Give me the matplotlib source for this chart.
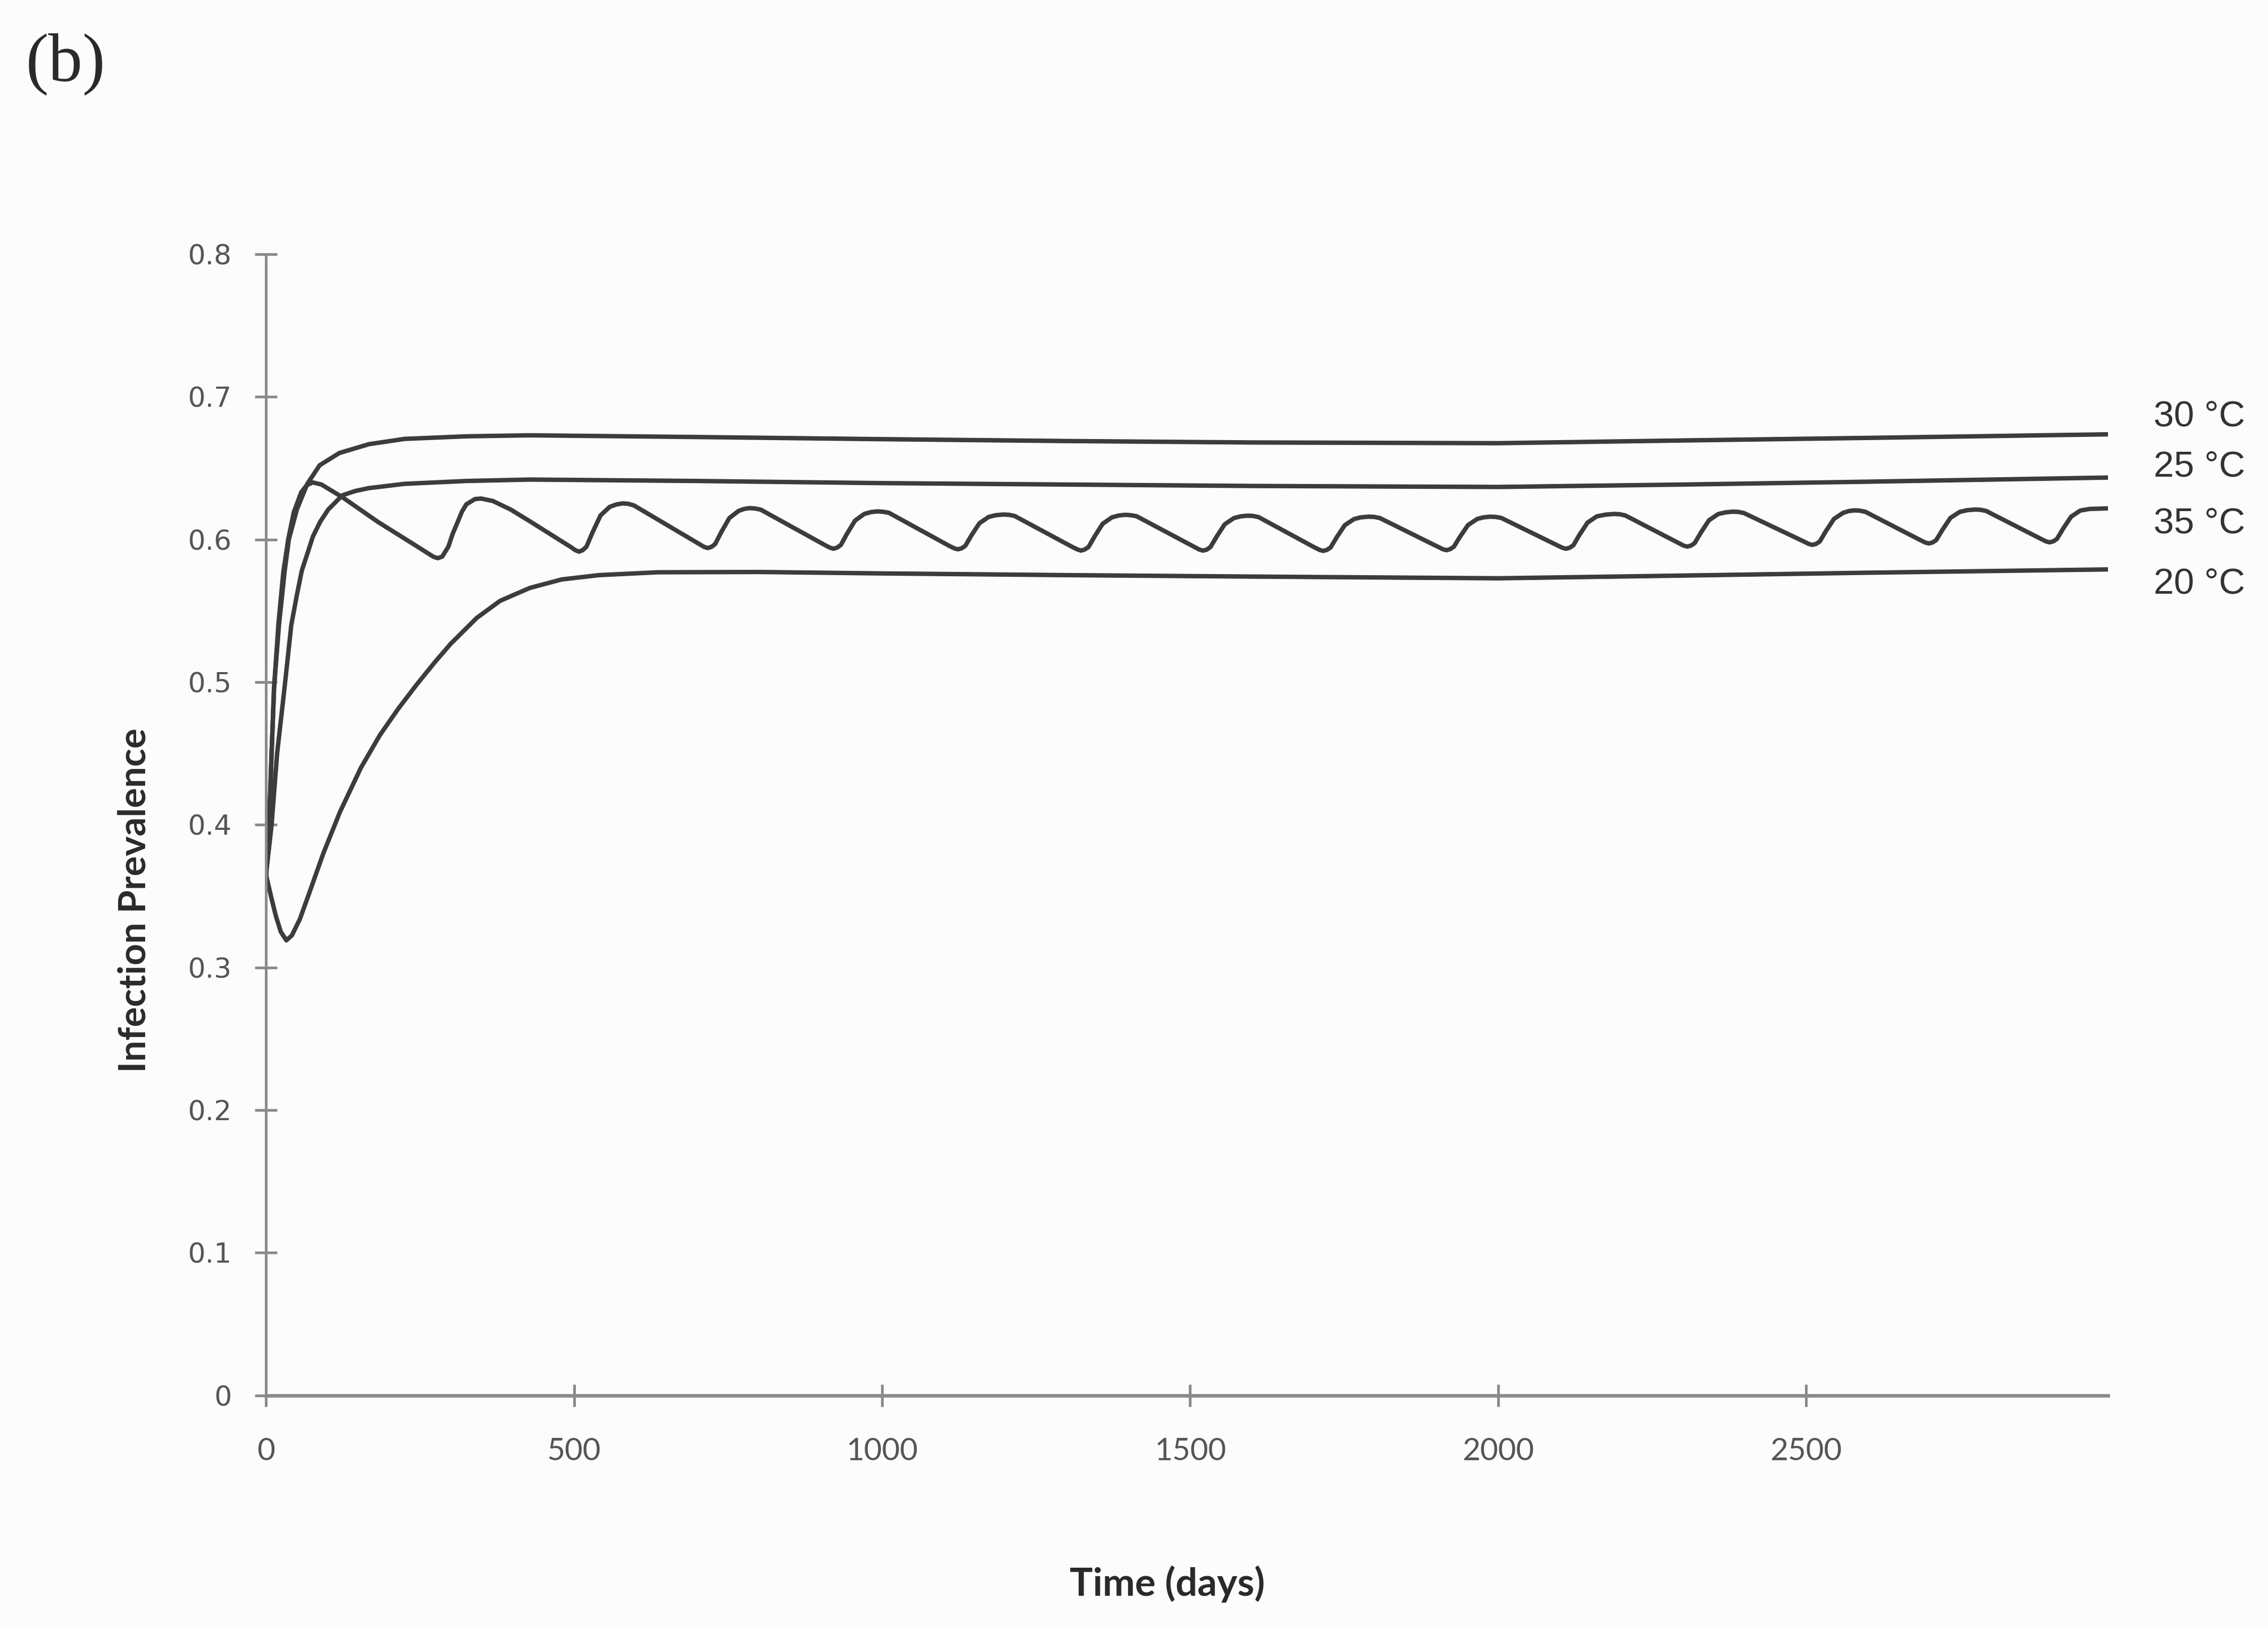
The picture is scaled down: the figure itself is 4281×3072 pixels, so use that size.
import matplotlib
matplotlib.use("Agg")
import matplotlib.pyplot as plt

# prevalence over time for each temperature
days_30 = [0, 5, 9, 13, 21, 30, 37, 50, 67, 87, 119, 167, 225, 325, 428,
           700, 1000, 1300, 1600, 2000, 2300, 2600, 2990]
prev_30 = [0.365, 0.400, 0.450, 0.496, 0.540, 0.577, 0.600, 0.621, 0.639, 0.652,
           0.6606, 0.6668, 0.6705, 0.6723, 0.6730, 0.6718, 0.6703, 0.6690, 0.6680,
           0.6675, 0.6694, 0.6712, 0.6737]

days_25 = [0, 9, 18, 30, 41, 50, 58, 76, 88, 101, 124, 145, 167, 225, 325, 428,
           700, 1000, 1300, 1600, 2000, 2300, 2600, 2990]
prev_25 = [0.365, 0.400, 0.450, 0.496, 0.540, 0.561, 0.578, 0.602, 0.6125, 0.621,
           0.631, 0.634, 0.636, 0.639, 0.641, 0.642, 0.641, 0.6395, 0.6385, 0.6375,
           0.6368, 0.6385, 0.6405, 0.6434]

days_20 = [0, 8, 16, 24, 33, 42, 55, 70, 93, 120, 154, 185, 214, 244, 274, 300,
           342, 380, 428, 480, 540, 636, 800, 1000, 1300, 1600, 2000, 2300, 2600, 2990]
prev_20 = [0.365, 0.350, 0.336, 0.325, 0.319, 0.3225, 0.334, 0.352, 0.380, 0.409,
           0.440, 0.463, 0.481, 0.498, 0.514, 0.527, 0.545, 0.557, 0.566, 0.572,
           0.575, 0.577, 0.5772, 0.5762, 0.5750, 0.5740, 0.5728, 0.5747, 0.5767, 0.5790]

days_35 = [0, 5, 9, 13, 20, 28, 36, 45, 57, 66, 76, 90, 124, 182, 239, 262, 272, 279,
           286, 296, 303, 311, 318, 325, 339, 349, 368, 397, 428,
           494, 502, 508, 514, 520, 530, 543, 558, 569, 579, 588, 597,
           703, 711, 717, 723, 729, 739, 752, 767, 776, 785, 794, 803,
           907, 915, 921, 927, 933, 943, 956, 971, 982, 993, 1002, 1011,
           1109, 1117, 1123, 1129, 1135, 1145, 1158, 1173, 1184, 1197, 1206, 1215,
           1309, 1317, 1323, 1329, 1335, 1345, 1358, 1373, 1384, 1395, 1404, 1413,
           1507, 1515, 1521, 1527, 1533, 1543, 1556, 1571, 1582, 1593, 1602, 1611,
           1702, 1710, 1716, 1722, 1728, 1738, 1751, 1766, 1777, 1790, 1799, 1808,
           1902, 1910, 1916, 1922, 1928, 1938, 1951, 1966, 1976, 1987, 1996, 2005,
           2096, 2104, 2110, 2116, 2122, 2132, 2145, 2160, 2174, 2188, 2197, 2206,
           2293, 2301, 2307, 2313, 2319, 2329, 2342, 2357, 2369, 2381, 2390, 2399,
           2496, 2504, 2510, 2516, 2522, 2532, 2545, 2560, 2569, 2578, 2587, 2596,
           2685, 2693, 2699, 2705, 2711, 2721, 2734, 2749, 2761, 2774, 2783, 2792,
           2881, 2889, 2895, 2901, 2907, 2917, 2930, 2945, 2960, 2990]
prev_35 = [0.365, 0.400, 0.450, 0.496, 0.540, 0.577, 0.600, 0.619, 0.633, 0.638,
           0.640, 0.6385, 0.6296, 0.6122, 0.5968, 0.5905, 0.5878, 0.5869,
           0.5880, 0.5950, 0.6040, 0.6122, 0.6195, 0.6246, 0.6283, 0.6287, 0.6270,
           0.6210, 0.6128,
           0.5949, 0.5925, 0.5915, 0.5925, 0.5949, 0.6050, 0.6169, 0.6229, 0.6246, 0.6253, 0.6250, 0.6239,
           0.5968, 0.5948, 0.5940, 0.5948, 0.5968, 0.6052, 0.6150, 0.6200, 0.6214, 0.6220, 0.6217, 0.6209,
           0.5961, 0.5943, 0.5935, 0.5943, 0.5961, 0.6040, 0.6132, 0.6179, 0.6192, 0.6197, 0.6194, 0.6187,
           0.5955, 0.5938, 0.5931, 0.5938, 0.5955, 0.6029, 0.6114, 0.6158, 0.6170, 0.6175, 0.6173, 0.6165,
           0.5947, 0.5930, 0.5922, 0.5930, 0.5947, 0.6022, 0.6110, 0.6155, 0.6168, 0.6173, 0.6170, 0.6163,
           0.5947, 0.5929, 0.5922, 0.5929, 0.5947, 0.6020, 0.6106, 0.6150, 0.6162, 0.6167, 0.6165, 0.6157,
           0.5944, 0.5927, 0.5920, 0.5927, 0.5944, 0.6016, 0.6100, 0.6143, 0.6155, 0.6160, 0.6158, 0.6150,
           0.5949, 0.5932, 0.5925, 0.5932, 0.5949, 0.6019, 0.6101, 0.6144, 0.6155, 0.6160, 0.6158, 0.6151,
           0.5959, 0.5942, 0.5935, 0.5942, 0.5959, 0.6033, 0.6118, 0.6162, 0.6174, 0.6179, 0.6177, 0.6169,
           0.5975, 0.5957, 0.5950, 0.5957, 0.5975, 0.6048, 0.6134, 0.6178, 0.6190, 0.6195, 0.6193, 0.6185,
           0.5986, 0.5969, 0.5962, 0.5969, 0.5986, 0.6059, 0.6144, 0.6187, 0.6199, 0.6204, 0.6202, 0.6194,
           0.5996, 0.5979, 0.5972, 0.5979, 0.5996, 0.6067, 0.6151, 0.6193, 0.6205, 0.6210, 0.6208, 0.6200,
           0.6004, 0.5987, 0.5980, 0.5987, 0.6004, 0.6076, 0.6160, 0.6203, 0.6214, 0.6218]

series_labels = ['30 °C', '25 °C', '35 °C', '20 °C']
label_y = [0.686, 0.651, 0.611, 0.569]

x_ticks = [0, 500, 1000, 1500, 2000, 2500]
y_ticks = [0, 0.1, 0.2, 0.3, 0.4, 0.5, 0.6, 0.7, 0.8]
y_ticklabels = ['0', '0.1', '0.2', '0.3', '0.4', '0.5', '0.6', '0.7', '0.8']

line_col = '#3c3c3c'
axis_col = '#8a8a8a'

fig = plt.figure(figsize=(4281 / 300, 3072 / 300), dpi=300, facecolor='#fcfcfc')
ax = fig.add_axes([0.1173, 0.1423, 0.8122, 0.7015])
ax.set_facecolor('none')

for d, p in [(days_30, prev_30), (days_25, prev_25), (days_35, prev_35), (days_20, prev_20)]:
    ax.plot(d, p, color=line_col, lw=2.0, solid_joinstyle='round', solid_capstyle='round')

ax.set_xlim(0, 2990)
ax.set_ylim(0, 0.8)

for s in ['top', 'right']:
    ax.spines[s].set_visible(False)
ax.spines['left'].set_color(axis_col)
ax.spines['left'].set_linewidth(1.2)
ax.spines['bottom'].set_color(axis_col)
ax.spines['bottom'].set_linewidth(1.6)

ax.set_yticks(y_ticks)
ax.set_yticklabels(y_ticklabels, family='DejaVu Sans', fontsize=12.5, color='#555555')
ax.set_xticks(x_ticks)
ax.set_xticklabels([str(v) for v in x_ticks], family='Lato', fontsize=14, color='#555555')
ax.tick_params(axis='y', direction='inout', length=10, width=1.2, color=axis_col, pad=10.5)
ax.tick_params(axis='x', direction='inout', length=10, width=1.2, color=axis_col, pad=14)

# temperature labels next to the line ends
for lab, yv in zip(series_labels, label_y):
    ax.text(3064, yv, lab, family='Liberation Sans', fontsize=16.5, color='#333333',
            ha='left', va='center', clip_on=False)

fig.text(2203 / 4281, 1 - 3013 / 3072, 'Time (days)', family='Lato', weight='bold',
         fontsize=17.5, color='#2a2a2a', ha='center', va='baseline')
fig.text(254 / 4281, 1 - 1700 / 3072, 'Infection Prevalence', family='Lato', weight='bold',
         fontsize=17, color='#2a2a2a', ha='center', va='center', rotation=90)
fig.text(48 / 4281, 1 - 152 / 3072, '(b)', family='Liberation Serif', fontsize=31,
         color='#2a2a2a', ha='left', va='baseline')

fig.savefig('out.png', dpi=300, facecolor=fig.get_facecolor())
